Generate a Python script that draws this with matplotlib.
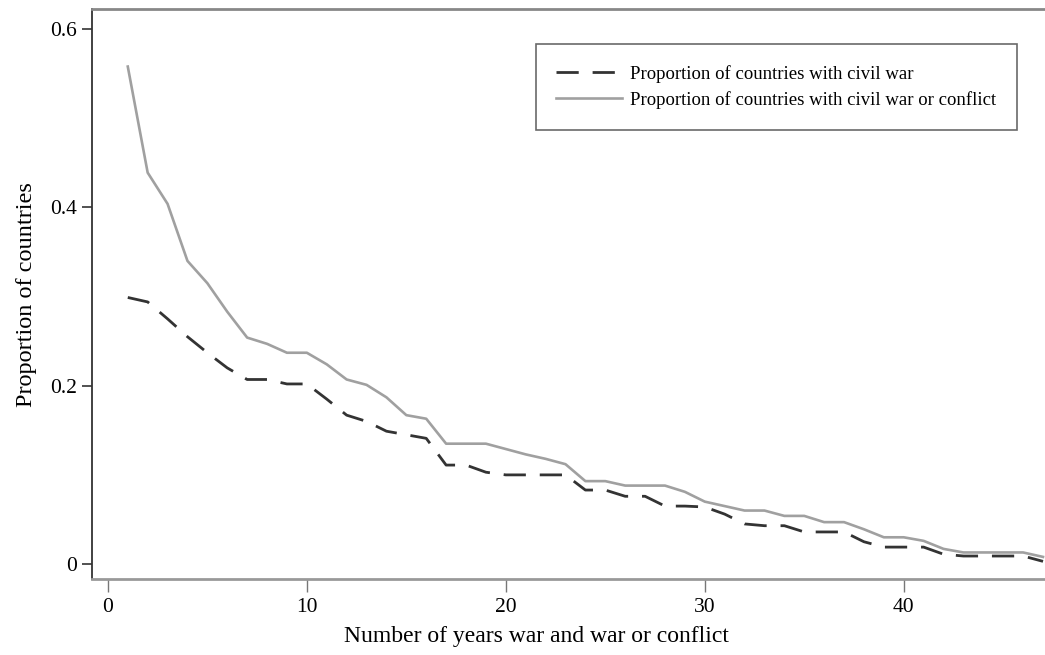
import numpy as np
import matplotlib
matplotlib.use("Agg")
import matplotlib.pyplot as plt

# years of war (x) and proportion of countries (y)
years = np.arange(1, 48)
civil_war = [0.299, 0.294, 0.275, 0.255, 0.237, 0.220, 0.207, 0.207, 0.202, 0.202,
             0.185, 0.167, 0.160, 0.149, 0.145, 0.141, 0.111, 0.111, 0.103, 0.100,
             0.100, 0.100, 0.100, 0.083, 0.083, 0.076, 0.076, 0.065, 0.065, 0.064,
             0.056, 0.045, 0.043, 0.043, 0.036, 0.036, 0.036, 0.025, 0.019, 0.019,
             0.019, 0.011, 0.009, 0.009, 0.009, 0.009, 0.003]
war_or_conflict = [0.558, 0.439, 0.404, 0.340, 0.315, 0.283, 0.254, 0.247, 0.237, 0.237,
                   0.224, 0.207, 0.201, 0.187, 0.167, 0.163, 0.135, 0.135, 0.135, 0.129,
                   0.123, 0.118, 0.112, 0.093, 0.093, 0.088, 0.088, 0.088, 0.081, 0.070,
                   0.065, 0.060, 0.060, 0.054, 0.054, 0.047, 0.047, 0.039, 0.030, 0.030,
                   0.026, 0.017, 0.013, 0.013, 0.013, 0.013, 0.008]
labels = ["Proportion of countries with civil war",
          "Proportion of countries with civil war or conflict"]

plt.rcParams['font.family'] = ['Liberation Serif', 'DejaVu Serif']

fig = plt.figure(figsize=(10.45, 6.55), dpi=100)
ax = fig.add_axes([0.088, 0.116, 0.912, 0.8695])

ax.plot(years, civil_war, color="#333333", lw=2, dashes=(8, 5), label=labels[0])
ax.plot(years, war_or_conflict, color="#a0a0a0", lw=1.9, label=labels[1])

ax.set_xlim(-0.8, 47.1)
ax.set_ylim(-0.0168, 0.622)
ax.set_xticks([0, 10, 20, 30, 40])
ax.set_yticks([0, 0.2, 0.4, 0.6])
ax.set_yticklabels(["0", "0.2", "0.4", "0.6"])

ax.spines['right'].set_visible(False)
ax.spines['left'].set_color("#333333")
ax.spines['left'].set_linewidth(1.3)
ax.spines['top'].set_color("#888888")
ax.spines['top'].set_linewidth(2)
ax.spines['bottom'].set_color("#999999")
ax.spines['bottom'].set_linewidth(2)

ax.tick_params(axis='x', length=9, width=1, color="#777777", labelsize=15.5, pad=5)
ax.tick_params(axis='y', length=7, width=1.2, color="#333333", labelsize=15.5, pad=4)

ax.set_xlabel("Number of years war and war or conflict", fontsize=17, labelpad=7)
ax.xaxis.set_label_coords(0.466, -0.083)
ax.set_ylabel("Proportion of countries", fontsize=17.5, labelpad=9)

leg = ax.legend(loc="upper right", bbox_to_anchor=(0.9706, 0.939), fontsize=13.5,
                frameon=True, fancybox=False, edgecolor="#444444",
                handlelength=3.5, handletextpad=0.45, borderpad=1.1,
                labelspacing=0.45, borderaxespad=0)
leg.get_frame().set_linewidth(1.2)

fig.savefig("out.png", dpi=100)
